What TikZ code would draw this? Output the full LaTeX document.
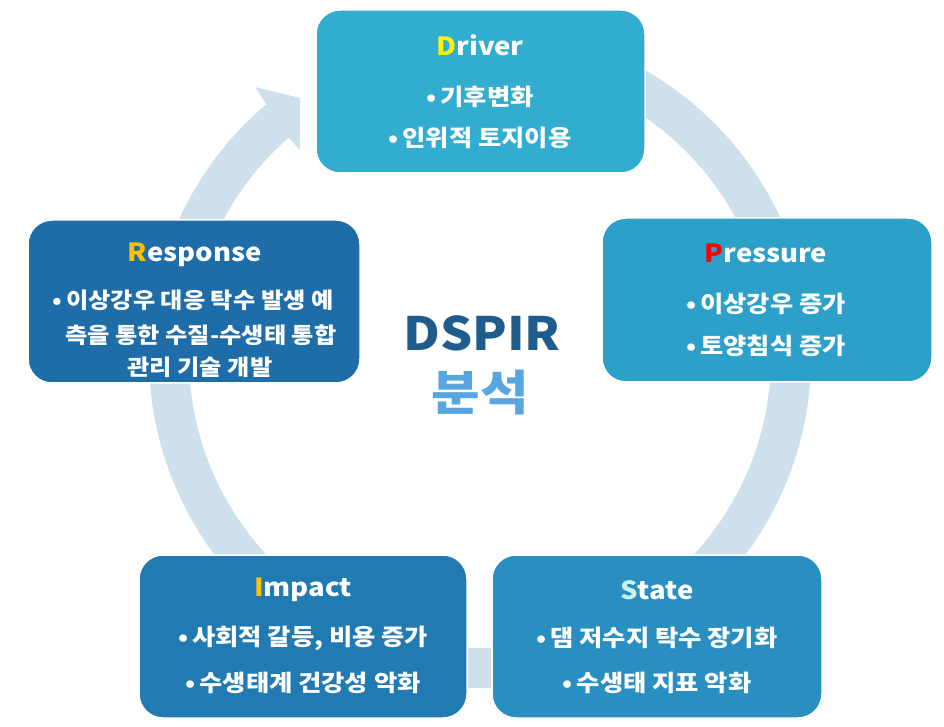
\documentclass[tikz,border=0pt]{standalone}
\usepackage{fontspec}
\usetikzlibrary{calc}
\setmainfont{Noto Sans CJK KR}[FakeStretch=1.1]
\definecolor{ringc}{RGB}{205,224,236}
\definecolor{cDriver}{RGB}{51,173,207}
\definecolor{cPress}{RGB}{44,160,200}
\definecolor{cResp}{RGB}{30,108,168}
\definecolor{cImpact}{RGB}{34,122,178}
\definecolor{cState}{RGB}{41,143,193}
\definecolor{cGold}{RGB}{255,192,0}
\definecolor{cMint}{RGB}{204,242,234}
\definecolor{cDark}{RGB}{31,92,139}
\definecolor{cLight}{RGB}{88,166,224}
\newcommand{\bu}{•\hspace{4pt}}
\begin{document}
\begin{tikzpicture}[x=1pt,y=1pt,
  box/.style={draw=white, line width=1.5pt, rounded corners=24pt, inner sep=0pt},
  ttl/.style={text=white, inner sep=0pt, font=\bfseries\fontsize{25}{30}\selectfont},
  bul/.style={text=white, inner sep=0pt, font=\bfseries\fontsize{23}{27}\selectfont},
  bulr/.style={text=white, inner sep=0pt, font=\bfseries\fontsize{22}{26}\selectfont}]
\useasboundingbox (0,0) rectangle (944,726);
% ring arrow
\coordinate (ctr) at (480,369);
\fill[ringc] ($(ctr)+(95:331)$) arc[start angle=95, end angle=-229.8, radius=331]
  -- (255,639) -- (300,628) -- (300,576)
  -- ($(ctr)+(-228.9:291)$) arc[start angle=-228.9, end angle=95, radius=291] -- cycle;
% boxes
\node[box, fill=cDriver, minimum width=329pt, minimum height=163pt] (driver) at (480.5,634.5) {};
\node[box, fill=cPress, minimum width=330pt, minimum height=164pt] (pressure) at (767,426) {};
\node[box, fill=cResp, minimum width=332pt, minimum height=163pt] (response) at (194,424.5) {};
\node[box, fill=cImpact, minimum width=328pt, minimum height=163pt] (impact) at (303,89.5) {};
\node[box, fill=cState, minimum width=330pt, minimum height=163pt] (state) at (657,89.5) {};
% Driver
\node[ttl] (dT) at (480,681) {\textcolor{yellow}{D}river};
\node[bul] (d1) at (480,629) {\bu 기후변화};
\node[bul] (d2) at (480,588) {\bu 인위적 토지이용};
% Pressure
\node[ttl] (pT) at (766,473) {\textcolor{red}{P}ressure};
\node[bul] (p1) at (766,422) {\bu 이상강우 증가};
\node[bul] (p2) at (766,380) {\bu 토양침식 증가};
% Response
\node[ttl] (rT) at (195,471) {\textcolor{cGold}{R}esponse};
\node[bulr] (r1) at (193,426) {\bu 이상강우 대응 탁수 발생 예};
\node[bulr] (r2) at (201,391) {측을 통한 수질-수생태 통합};
\node[bulr] (r3) at (200,359) {관리 기술 개발};
% Impact
\node[ttl] (iT) at (303,136) {\textcolor{cGold}{I}mpact};
\node[bul] (i1) at (303,88) {\bu 사회적 갈등, 비용 증가};
\node[bul] (i2) at (303,43) {\bu 수생태계 건강성 악화};
% State
\node[ttl] (sT) at (657,136) {\textcolor{cMint}{S}tate};
\node[bul] (s1) at (657,88) {\bu 댐 저수지 탁수 장기화};
\node[bul] (s2) at (657,43) {\bu 수생태 지표 악화};
% center
\node[text=cDark, font=\bfseries\fontsize{46}{50}\selectfont] (dspir) at (482,393) {DSPIR};
\node[text=cLight, font=\bfseries\fontsize{48}{52}\selectfont] (bunseok) at (480,333) {분석};
\end{tikzpicture}
\end{document}
